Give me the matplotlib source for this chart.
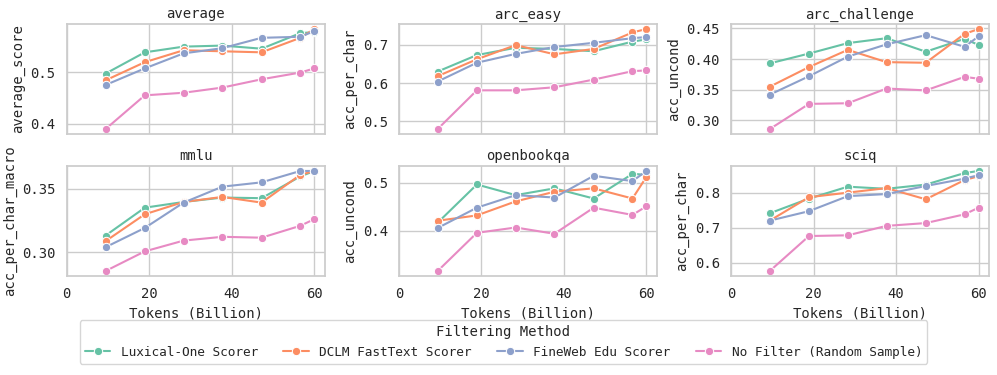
import matplotlib
matplotlib.use("Agg")
import matplotlib.pyplot as plt
from matplotlib.ticker import MultipleLocator, FormatStrFormatter
import seaborn as sns
import pandas as pd

tokens = [9.4, 18.9, 28.3, 37.7, 47.2, 56.6, 60.0]
methods = ["Luxical-One Scorer", "DCLM FastText Scorer", "FineWeb Edu Scorer", "No Filter (Random Sample)"]

tasks = ["average", "arc_easy", "arc_challenge", "mmlu", "openbookqa", "sciq"]
metrics = ["average_score", "acc_per_char", "acc_uncond", "acc_per_char_macro", "acc_uncond", "acc_per_char"]
ytick_step = [0.1, 0.1, 0.05, 0.05, 0.1, 0.1]
ytick_fmt = ["%.1f", "%.1f", "%.2f", "%.2f", "%.1f", "%.1f"]

# values per task, one list per method (same order as methods)
average = [
    [0.497, 0.538, 0.549, 0.551, 0.545, 0.575, 0.577],
    [0.484, 0.519, 0.542, 0.540, 0.538, 0.566, 0.583],
    [0.475, 0.507, 0.536, 0.546, 0.566, 0.568, 0.579],
    [0.390, 0.455, 0.460, 0.470, 0.486, 0.499, 0.507],
]
arc_easy = [
    [0.630, 0.673, 0.692, 0.689, 0.683, 0.708, 0.714],
    [0.618, 0.662, 0.699, 0.675, 0.689, 0.732, 0.741],
    [0.604, 0.653, 0.676, 0.694, 0.705, 0.717, 0.720],
    [0.480, 0.581, 0.581, 0.589, 0.609, 0.631, 0.633],
]
arc_challenge = [
    [0.393, 0.409, 0.426, 0.434, 0.412, 0.433, 0.423],
    [0.355, 0.387, 0.415, 0.395, 0.394, 0.441, 0.449],
    [0.342, 0.372, 0.404, 0.424, 0.439, 0.420, 0.437],
    [0.286, 0.327, 0.328, 0.352, 0.349, 0.371, 0.368],
]
mmlu = [
    [0.313, 0.335, 0.3395, 0.343, 0.3425, 0.3597, 0.364],
    [0.3086, 0.3298, 0.3395, 0.3435, 0.339, 0.361, 0.364],
    [0.3038, 0.319, 0.339, 0.3516, 0.355, 0.364, 0.364],
    [0.285, 0.3005, 0.309, 0.312, 0.3113, 0.3207, 0.326],
]
openbookqa = [
    [0.417, 0.496, 0.474, 0.488, 0.467, 0.518, 0.516],
    [0.421, 0.432, 0.461, 0.481, 0.488, 0.467, 0.512],
    [0.406, 0.448, 0.474, 0.469, 0.514, 0.503, 0.524],
    [0.317, 0.396, 0.407, 0.394, 0.448, 0.433, 0.451],
]
sciq = [
    [0.741, 0.783, 0.817, 0.811, 0.823, 0.856, 0.862],
    [0.720, 0.787, 0.800, 0.813, 0.781, 0.836, 0.847],
    [0.720, 0.747, 0.790, 0.796, 0.819, 0.840, 0.850],
    [0.576, 0.676, 0.678, 0.705, 0.713, 0.738, 0.757],
]
all_values = [average, arc_easy, arc_challenge, mmlu, openbookqa, sciq]

rows = []
for task, vals in zip(tasks, all_values):
    for m, series in zip(methods, vals):
        for t, v in zip(tokens, series):
            rows.append((task, m, t, v))
df = pd.DataFrame(rows, columns=["task", "Filtering Method", "tokens", "value"])

sns.set_theme(style="whitegrid")
plt.rcParams["font.family"] = ["DejaVu Sans Mono"]
plt.rcParams["font.size"] = 10

fig, axes = plt.subplots(2, 3, figsize=(9.97, 3.75), dpi=100, sharex=True)
fig.subplots_adjust(left=0.067, right=0.992, top=0.936, bottom=0.264, wspace=0.287, hspace=0.29)

palette = sns.color_palette("Set2", 4)
for i, (ax, task, metric) in enumerate(zip(axes.flat, tasks, metrics)):
    sub = df[df["task"] == task]
    sns.lineplot(data=sub, x="tokens", y="value", hue="Filtering Method", hue_order=methods,
                 palette=palette, marker="o", ax=ax, legend=(task == "average"))
    ax.set_title(task, fontsize=10, pad=4)
    ax.set_ylabel(metric, fontsize=10)
    ax.set_xlabel("Tokens (Billion)", fontsize=10)
    ax.tick_params(labelsize=10, pad=2)
    ax.set_xlim(left=0)
    ax.set_xticks([0, 20, 40, 60])
    ax.yaxis.set_major_locator(MultipleLocator(ytick_step[i]))
    ax.yaxis.set_major_formatter(FormatStrFormatter(ytick_fmt[i]))
    for s in ax.spines.values():
        s.set_edgecolor("#cccccc")

for ax in axes[0]:
    ax.set_xlabel("")

handles, labels = axes[0, 0].get_legend_handles_labels()
axes[0, 0].get_legend().remove()
fig.legend(handles, labels, title="Filtering Method", loc="lower center", ncol=4,
           bbox_to_anchor=(0.505, 0.013), fontsize=9.2, title_fontsize=10, frameon=True)

fig.savefig("out.png", dpi=100)
